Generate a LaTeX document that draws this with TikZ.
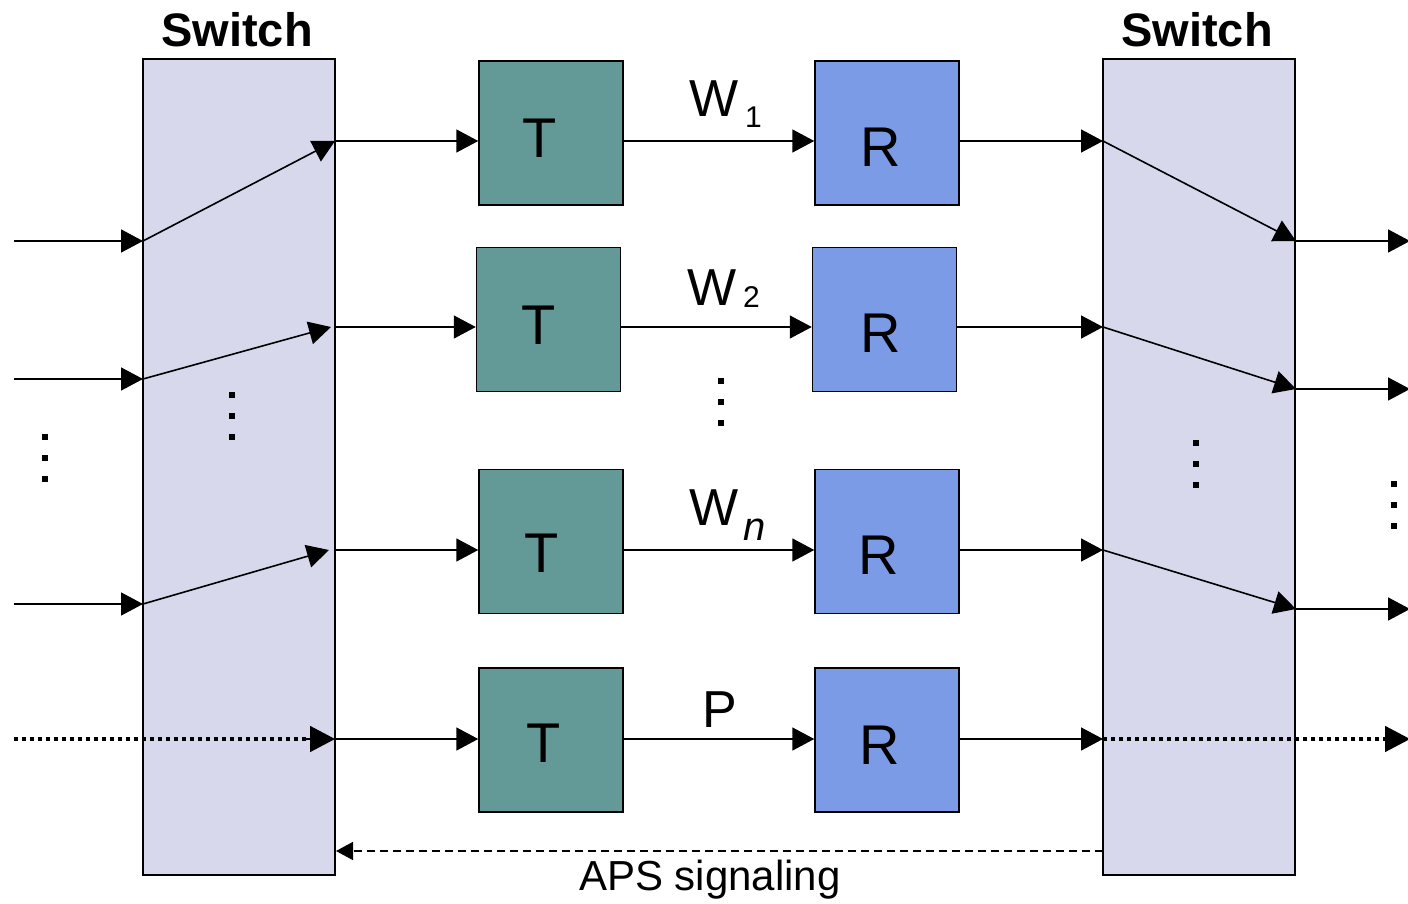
\documentclass[tikz,border=0pt]{standalone}
\usepackage{fontspec}
\setmainfont{Liberation Sans}
\usetikzlibrary{arrows.meta}
\definecolor{swfill}{RGB}{216,216,236}
\definecolor{tfill}{RGB}{99,154,152}
\definecolor{rfill}{RGB}{123,155,230}
\newcommand\mydots[2]{%
  \fill (#1-3,#2-3) rectangle ++(6,6);
  \fill (#1-3,#2+18) rectangle ++(6,6);
  \fill (#1-3,#2+39) rectangle ++(6,6);}
\begin{document}
\begin{tikzpicture}[x=1pt,y=-1pt,
  switch/.style={draw,line width=1.5pt,fill=swfill,minimum width=192pt,minimum height=816pt,inner sep=0pt},
  tbox/.style={draw,line width=1.5pt,fill=tfill,minimum width=144pt,minimum height=144pt,inner sep=0pt},
  rbox/.style={draw,line width=1.5pt,fill=rfill,minimum width=144pt,minimum height=144pt,inner sep=0pt},
  big/.style={font=\fontsize{56}{58}\selectfont,inner sep=0pt},
  title/.style={font=\fontsize{47}{50}\selectfont\bfseries},
  lab/.style={font=\fontsize{52}{54}\selectfont,anchor=base west,inner sep=0pt},
  sub/.style={font=\fontsize{30}{32}\selectfont,anchor=base west,inner sep=0pt},
  arr/.style={line width=1.6pt,-{Triangle[length=22pt,width=23pt]}},
  bigarr/.style={line width=1.6pt,-{Triangle[length=25pt,width=26pt]}},
  dotl/.style={line width=4pt,dash pattern=on 4pt off 4pt},
]
\useasboundingbox (0,0) rectangle (1408,904);
% switches
\node[switch] (s1) at (239,467) {};
\node[switch] (s2) at (1199,467) {};
\node[title] (h1) at (237,30) {Switch};
\node[title] (h2) at (1197,30) {Switch};
% T and R boxes
\node[tbox] (t1) at (551,133) {};
\node[tbox] (t2) at (548.5,319.5) {};
\node[tbox] (t3) at (551,541.5) {};
\node[tbox] (t4) at (551,740) {};
\node[rbox] (r1) at (887,133) {};
\node[rbox] (r2) at (884.5,319.5) {};
\node[rbox] (r3) at (887,541.5) {};
\node[rbox] (r4) at (887,740) {};
\node[big] (tt1) at (540,138) {T};
\node[big] (tt2) at (539,325) {T};
\node[big] (tt3) at (542,553) {T};
\node[big] (tt4) at (544,743) {T};
\node[big] (rr1) at (881,147) {R};
\node[big] (rr2) at (881,333) {R};
\node[big] (rr3) at (879,555) {R};
\node[big] (rr4) at (880,745) {R};
% coordinates
\coordinate (a1) at (14,241);
\coordinate (a2) at (14,379);
\coordinate (a3) at (14,604);
\coordinate (a4) at (14,739);
\coordinate (i1) at (143,241);
\coordinate (i2) at (143,379);
\coordinate (i3) at (143,604);
\coordinate (o1) at (335,141);
\coordinate (o2) at (331,327);
\coordinate (o3) at (329,550);
\coordinate (o4) at (335,739);
\coordinate (p1) at (1103,141);
\coordinate (p2) at (1103,327);
\coordinate (p3) at (1103,550);
\coordinate (p4) at (1103,739);
\coordinate (q1) at (1296,241);
\coordinate (q2) at (1296,389);
\coordinate (q3) at (1296,609);
\coordinate (z1) at (1410,241);
\coordinate (z2) at (1410,389);
\coordinate (z3) at (1410,609);
\coordinate (z4) at (1410,739);
\coordinate (g1) at (1103,851);
\coordinate (g2) at (336,851);
% inputs
\draw[arr] (a1) -- (i1);
\draw[arr] (a2) -- (i2);
\draw[arr] (a3) -- (i3);
\draw[dotl] (a4) -- (308,739);
\draw[bigarr] (306,739) -- (o4);
% left switch
\draw[arr] (i1) -- (o1);
\draw[arr] (i2) -- (o2);
\draw[arr] (i3) -- (o3);
% switch to T
\draw[arr] (335,141) -- (o1 -| t1.west);
\draw[arr] (335,327) -- (o2 -| t2.west);
\draw[arr] (335,550) -- (o3 -| t3.west);
\draw[arr] (o4) -- (o4 -| t4.west);
% T to R
\draw[arr] (o1 -| t1.east) -- (o1 -| r1.west);
\draw[arr] (o2 -| t2.east) -- (o2 -| r2.west);
\draw[arr] (o3 -| t3.east) -- (o3 -| r3.west);
\draw[arr] (o4 -| t4.east) -- (o4 -| r4.west);
% R to switch
\draw[arr] (p1 -| r1.east) -- (p1);
\draw[arr] (p2 -| r2.east) -- (p2);
\draw[arr] (p3 -| r3.east) -- (p3);
\draw[arr] (p4 -| r4.east) -- (p4);
% right switch
\draw[arr] (p1) -- (q1);
\draw[arr] (p2) -- (q2);
\draw[arr] (p3) -- (q3);
\draw[dotl] (p4) -- (1386,739);
\draw[bigarr] (1383,739) -- (z4);
% outputs
\draw[arr] (q1) -- (z1);
\draw[arr] (q2) -- (z2);
\draw[arr] (q3) -- (z3);
% APS signaling
\draw[line width=1.5pt,dash pattern=on 8pt off 5pt,-{Triangle[length=17pt,width=18pt]}] (g1) -- (g2);
\node[font=\fontsize{42}{44}\selectfont] (aps) at (710,880) {APS signaling};
% labels
\node[lab] (w1) at (689,117) {W};
\node[sub] (w1s) at (745,128) {1};
\node[lab] (w2) at (687,305) {W};
\node[sub] (w2s) at (743,307) {2};
\node[lab] (wn) at (689,525) {W};
\node[sub,font=\fontsize{40}{42}\selectfont\itshape] (wns) at (743,540) {n};
\node[lab] (pl) at (702,727) {P};
% dots
\mydots{45}{437}
\mydots{232}{395}
\mydots{721}{381}
\mydots{1196}{443}
\mydots{1394}{484}
\end{tikzpicture}
\end{document}
